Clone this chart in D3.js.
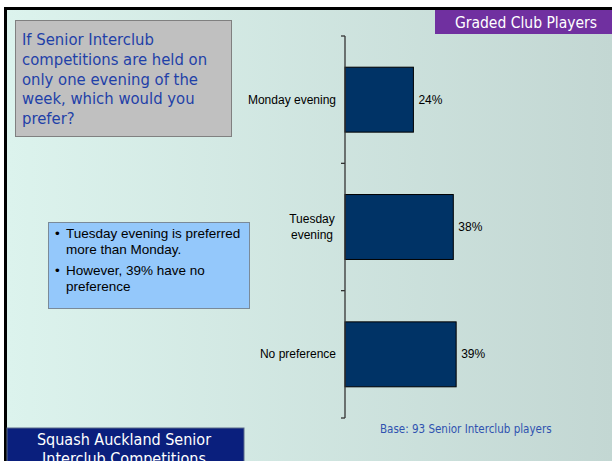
<!DOCTYPE html>
<html>
<head>
<meta charset="utf-8">
<script src="https://cdn.jsdelivr.net/npm/d3@7"></script>
<style>
  body { margin: 0; overflow: hidden; }
  svg { display: block; }
</style>
</head>
<body>
<script>
// chart values
let categories = ['Monday evening', 'Tuesday evening', 'No preference'];
let percents = [24, 38, 39];
let questionLines = ['If Senior Interclub', 'competitions are held on', 'only one evening of the', 'week, which would you', 'prefer?'];
let bulletLines = [['Tuesday evening is preferred', 'more than Monday.'], ['However, 39% have no', 'preference']];

let width = 612;
let height = 461;
let tahoma = '"DejaVu Sans Condensed", "DejaVu Sans", sans-serif';
let arial = '"Liberation Sans", Arial, sans-serif';

let svg = d3.select('body')
  .append('svg')
  .attr('width', width)
  .attr('height', height);

let defs = svg.append('defs');
let grad = defs.append('linearGradient')
  .attr('id', 'bg')
  .attr('x1', '0%').attr('x2', '100%')
  .attr('y1', '0%').attr('y2', '0%');
grad.append('stop').attr('offset', '0%').attr('stop-color', '#dcf3ed');
grad.append('stop').attr('offset', '100%').attr('stop-color', '#c3d7d3');

// slide background + frame
svg.append('rect')
  .attr('width', width).attr('height', height)
  .attr('fill', '#ffffff');
svg.append('rect')
  .attr('x', 7).attr('y', 10)
  .attr('width', width - 7).attr('height', height - 10)
  .attr('fill', 'url(#bg)');
svg.append('rect')
  .attr('x', 4).attr('y', 7)
  .attr('width', width - 4).attr('height', 3)
  .attr('fill', '#000');
svg.append('rect')
  .attr('x', 4).attr('y', 7)
  .attr('width', 3).attr('height', height - 7)
  .attr('fill', '#000');

// scales
let y = d3.scaleBand()
  .domain(categories)
  .range([36, 418])
  .paddingInner(0.49)
  .paddingOuter(0.245);

let x = d3.scaleLinear()
  .domain([0, 100])
  .range([345, 630]);

// bars
svg.selectAll('.bar')
  .data(categories)
  .enter()
  .append('rect')
  .attr('class', 'bar')
  .attr('x', x(0))
  .attr('y', function (d) { return y(d); })
  .attr('width', function (d, i) { return x(percents[i]) - x(0); })
  .attr('height', y.bandwidth())
  .attr('fill', '#003366')
  .attr('stroke', '#000')
  .attr('stroke-width', 1);

// value labels
svg.selectAll('.val')
  .data(categories)
  .enter()
  .append('text')
  .attr('class', 'val')
  .attr('x', function (d, i) { return x(percents[i]) + 5; })
  .attr('y', function (d) { return y(d) + y.bandwidth() / 2 + 4; })
  .attr('font-family', arial)
  .attr('font-size', 12)
  .attr('fill', '#000')
  .text(function (d, i) { return percents[i] + '%'; });

// axis: boundary ticks between categories
let boundaries = [36, 36 + y.step() * 1, 36 + y.step() * 2, 418];
let axis = svg.append('g');
axis.append('line')
  .attr('x1', x(0)).attr('x2', x(0))
  .attr('y1', 36).attr('y2', 418)
  .attr('stroke', '#333').attr('stroke-width', 1.3);
axis.selectAll('.tick')
  .data(boundaries)
  .enter()
  .append('line')
  .attr('x1', x(0) - 4).attr('x2', x(0))
  .attr('y1', function (d) { return d; })
  .attr('y2', function (d) { return d; })
  .attr('stroke', '#333').attr('stroke-width', 1.3);

// category labels
let catLabels = svg.append('g');
catLabels.append('text')
  .attr('x', 336)
  .attr('y', y(categories[0]) + y.bandwidth() / 2 + 4)
  .attr('text-anchor', 'end')
  .attr('font-family', arial).attr('font-size', 12)
  .text(categories[0]);
let tue = catLabels.append('text')
  .attr('text-anchor', 'middle')
  .attr('font-family', arial).attr('font-size', 12);
tue.append('tspan')
  .attr('x', 312)
  .attr('y', y(categories[1]) + y.bandwidth() / 2 - 4)
  .text('Tuesday');
tue.append('tspan')
  .attr('x', 312)
  .attr('y', y(categories[1]) + y.bandwidth() / 2 + 12)
  .text('evening');
catLabels.append('text')
  .attr('x', 336)
  .attr('y', y(categories[2]) + y.bandwidth() / 2 + 4)
  .attr('text-anchor', 'end')
  .attr('font-family', arial).attr('font-size', 12)
  .text(categories[2]);

// question box
svg.append('rect')
  .attr('x', 15.5).attr('y', 20.5)
  .attr('width', 216).attr('height', 116)
  .attr('fill', '#c0c0c0')
  .attr('stroke', '#808080');
svg.append('g')
  .selectAll('text')
  .data(questionLines)
  .enter()
  .append('text')
  .attr('x', 22)
  .attr('y', function (d, i) { return 45 + i * 19.8; })
  .attr('font-family', tahoma)
  .attr('font-size', 16.5)
  .attr('fill', '#1f40a8')
  .text(function (d) { return d; });

// purple tag
svg.append('rect')
  .attr('x', 435).attr('y', 10)
  .attr('width', width - 435).attr('height', 24)
  .attr('fill', '#7030a0');
svg.append('text')
  .attr('x', 526).attr('y', 28)
  .attr('text-anchor', 'middle')
  .attr('font-family', tahoma)
  .attr('font-size', 15.5)
  .attr('fill', '#fff')
  .text('Graded Club Players');

// bullet box
svg.append('rect')
  .attr('x', 48.5).attr('y', 222.5)
  .attr('width', 201).attr('height', 86)
  .attr('fill', '#94c8fb')
  .attr('stroke', '#7a8a99');
let by = 238;
bulletLines.forEach(function (lines, bi) {
  svg.append('text')
    .attr('x', 55).attr('y', by)
    .attr('font-family', arial).attr('font-size', 13.5)
    .text('\u2022');
  lines.forEach(function (l) {
    svg.append('text')
      .attr('x', 66).attr('y', by)
      .attr('font-family', arial).attr('font-size', 13.5)
      .text(l);
    by += 16;
  });
  by += 5;
});

// base note
svg.append('text')
  .attr('x', 380).attr('y', 433)
  .attr('font-family', tahoma)
  .attr('font-size', 11.5)
  .attr('fill', '#2f52b0')
  .text('Base: 93 Senior Interclub players');

// footer
svg.append('rect')
  .attr('x', 7).attr('y', 428)
  .attr('width', 237).attr('height', 40)
  .attr('fill', '#0a1f7d')
  .attr('stroke', '#5a6a8a');
let foot = svg.append('text')
  .attr('text-anchor', 'middle')
  .attr('font-family', tahoma)
  .attr('font-size', 16)
  .attr('fill', '#fff');
foot.append('tspan').attr('x', 124).attr('y', 445).text('Squash Auckland Senior');
foot.append('tspan').attr('x', 124).attr('y', 464).text('Interclub Competitions');
</script>
</body>
</html>
